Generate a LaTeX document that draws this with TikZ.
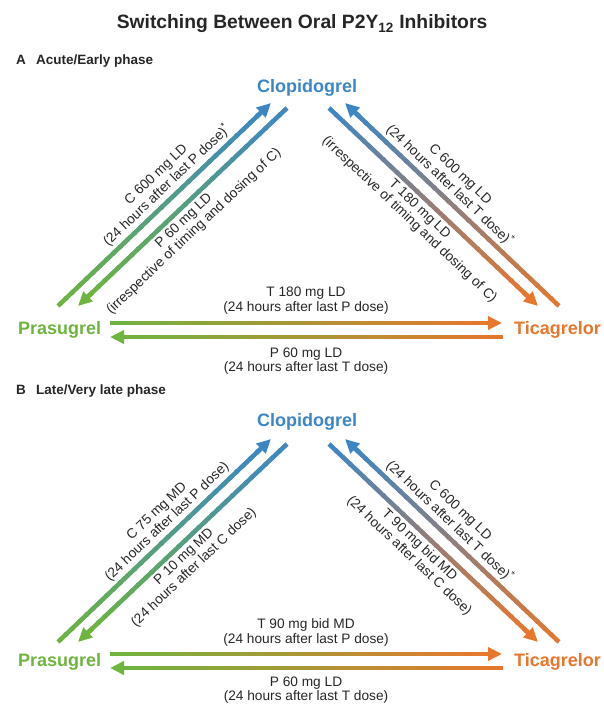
\documentclass[tikz,border=0pt]{standalone}
\usepackage{fontspec}
\setmainfont{Liberation Sans}
\usetikzlibrary{arrows.meta, calc}
\definecolor{cpblue}{HTML}{3C86C6}
\definecolor{prgreen}{HTML}{6FB43F}
\definecolor{tcorange}{HTML}{E8762D}
\definecolor{txtgrey}{HTML}{262626}

% arrow whose shaft fades from one colour to the other
\newcommand{\gradarrow}[4]{%
  \draw[arr, #4] ($(#2)!20pt!(#1)$) -- (#2);
  \coordinate (gq) at ($(#2)!11pt!(#1)$);
  \foreach \k in {1,...,30}{%
    \pgfmathsetmacro{\ga}{(\k-1)/30}%
    \pgfmathsetmacro{\gb}{min(1,\k/30+0.01)}%
    \pgfmathtruncatemacro{\gm}{100-(\k-0.5)*100/30}%
    \draw[shaft, #3!\gm!#4] ($(#1)!\ga!(gq)$) -- ($(#1)!\gb!(gq)$);
  }%
}

\begin{document}
\begin{tikzpicture}[x=1pt, y=1pt,
        drug/.style={font=\bfseries\fontsize{18}{20}\selectfont, inner sep=0pt},
        phase/.style={font=\bfseries\fontsize{13.5}{16}\selectfont, text=txtgrey,
                      anchor=base west, inner sep=0pt},
        lbl/.style={font=\fontsize{13.7}{14.6}\selectfont, text=txtgrey, align=center, inner sep=1pt},
        shaft/.style={line width=4.5pt},
        arr/.style={line width=4.5pt, -{Triangle[length=14pt, width=13pt]}}]
  \useasboundingbox (0,0) rectangle (603,704);
  \node[font=\bfseries\fontsize{19.3}{22}\selectfont, text=txtgrey, anchor=base] (title) at (302,675)
    {Switching Between Oral P2Y\textsubscript{12} Inhibitors};

  % A: acute / early phase
  \node[phase] (phaseA) at (16,639) {A\hspace{0.75em}Acute/Early phase};
  \node[drug, text=cpblue, anchor=base] (clopA) at (307,611) {Clopidogrel};
  \node[drug, text=prgreen, anchor=base west] (prasA) at (18,369) {Prasugrel};
  \node[drug, text=tcorange, anchor=base east] (ticaA) at (601,369) {Ticagrelor};

  \coordinate (pcA0) at (58,398);  \coordinate (pcA1) at (271,601);
  \coordinate (cpA0) at (287,596); \coordinate (cpA1) at (78,398);
  \coordinate (tcA0) at (559,398); \coordinate (tcA1) at (345,601);
  \coordinate (ctA0) at (329,596); \coordinate (ctA1) at (538,398);
  \coordinate (ptA0) at (110,381); \coordinate (ptA1) at (502,381);
  \coordinate (tpA0) at (503,367); \coordinate (tpA1) at (110,367);

  \gradarrow{pcA0}{pcA1}{prgreen}{cpblue}
  \gradarrow{cpA0}{cpA1}{cpblue}{prgreen}
  \gradarrow{tcA0}{tcA1}{tcorange}{cpblue}
  \gradarrow{ctA0}{ctA1}{cpblue}{tcorange}
  \gradarrow{ptA0}{ptA1}{prgreen}{tcorange}
  \gradarrow{tpA0}{tpA1}{tcorange}{prgreen}

  \path (pcA0) -- node[lbl, sloped, above=4pt, pos=.55]
    {C 600 mg LD\\(24 hours after last P dose)\textsuperscript{*}} (pcA1);
  \path (cpA1) -- node[lbl, sloped, below=4pt, pos=.47]
    {P 60 mg LD\\(irrespective of timing and dosing of C)} (cpA0);
  \path (tcA1) -- node[lbl, sloped, above=4pt, pos=.45]
    {C 600 mg LD\\(24 hours after last T dose)\textsuperscript{*}} (tcA0);
  \path (ctA0) -- node[lbl, sloped, below=4pt, pos=.47]
    {T 180 mg LD\\(irrespective of timing and dosing of C)} (ctA1);
  \node[lbl, anchor=south] (ptAlbl) at (306,388.5) {T 180 mg LD\\(24 hours after last P dose)};
  \node[lbl, anchor=north] (tpAlbl) at (306,357.5) {P 60 mg LD\\(24 hours after last T dose)};

  % B: late / very late phase
  \node[phase] (phaseB) at (16,309) {B\hspace{0.75em}Late/Very late phase};
  \node[drug, text=cpblue, anchor=base] (clopB) at (307,277) {Clopidogrel};
  \node[drug, text=prgreen, anchor=base west] (prasB) at (18,37) {Prasugrel};
  \node[drug, text=tcorange, anchor=base east] (ticaB) at (601,37) {Ticagrelor};

  \coordinate (pcB0) at (58,62);   \coordinate (pcB1) at (271,265);
  \coordinate (cpB0) at (287,260); \coordinate (cpB1) at (78,62);
  \coordinate (tcB0) at (559,62);  \coordinate (tcB1) at (345,265);
  \coordinate (ctB0) at (329,260); \coordinate (ctB1) at (538,62);
  \coordinate (ptB0) at (110,50);  \coordinate (ptB1) at (502,50);
  \coordinate (tpB0) at (503,36);  \coordinate (tpB1) at (110,36);

  \gradarrow{pcB0}{pcB1}{prgreen}{cpblue}
  \gradarrow{cpB0}{cpB1}{cpblue}{prgreen}
  \gradarrow{tcB0}{tcB1}{tcorange}{cpblue}
  \gradarrow{ctB0}{ctB1}{cpblue}{tcorange}
  \gradarrow{ptB0}{ptB1}{prgreen}{tcorange}
  \gradarrow{tpB0}{tpB1}{tcorange}{prgreen}

  \path (pcB0) -- node[lbl, sloped, above=4pt, pos=.55]
    {C 75 mg MD\\(24 hours after last P dose)} (pcB1);
  \path (cpB1) -- node[lbl, sloped, below=4pt, pos=.47]
    {P 10 mg MD\\(24 hours after last C dose)} (cpB0);
  \path (tcB1) -- node[lbl, sloped, above=4pt, pos=.45]
    {C 600 mg LD\\(24 hours after last T dose)\textsuperscript{*}} (tcB0);
  \path (ctB0) -- node[lbl, sloped, below=4pt, pos=.47]
    {T 90 mg bid MD\\(24 hours after last C dose)} (ctB1);
  \node[lbl, anchor=south] (ptBlbl) at (306,56.7) {T 90 mg bid MD\\(24 hours after last P dose)};
  \node[lbl, anchor=north] (tpBlbl) at (306,28.6) {P 60 mg LD\\(24 hours after last T dose)};
\end{tikzpicture}
\end{document}
